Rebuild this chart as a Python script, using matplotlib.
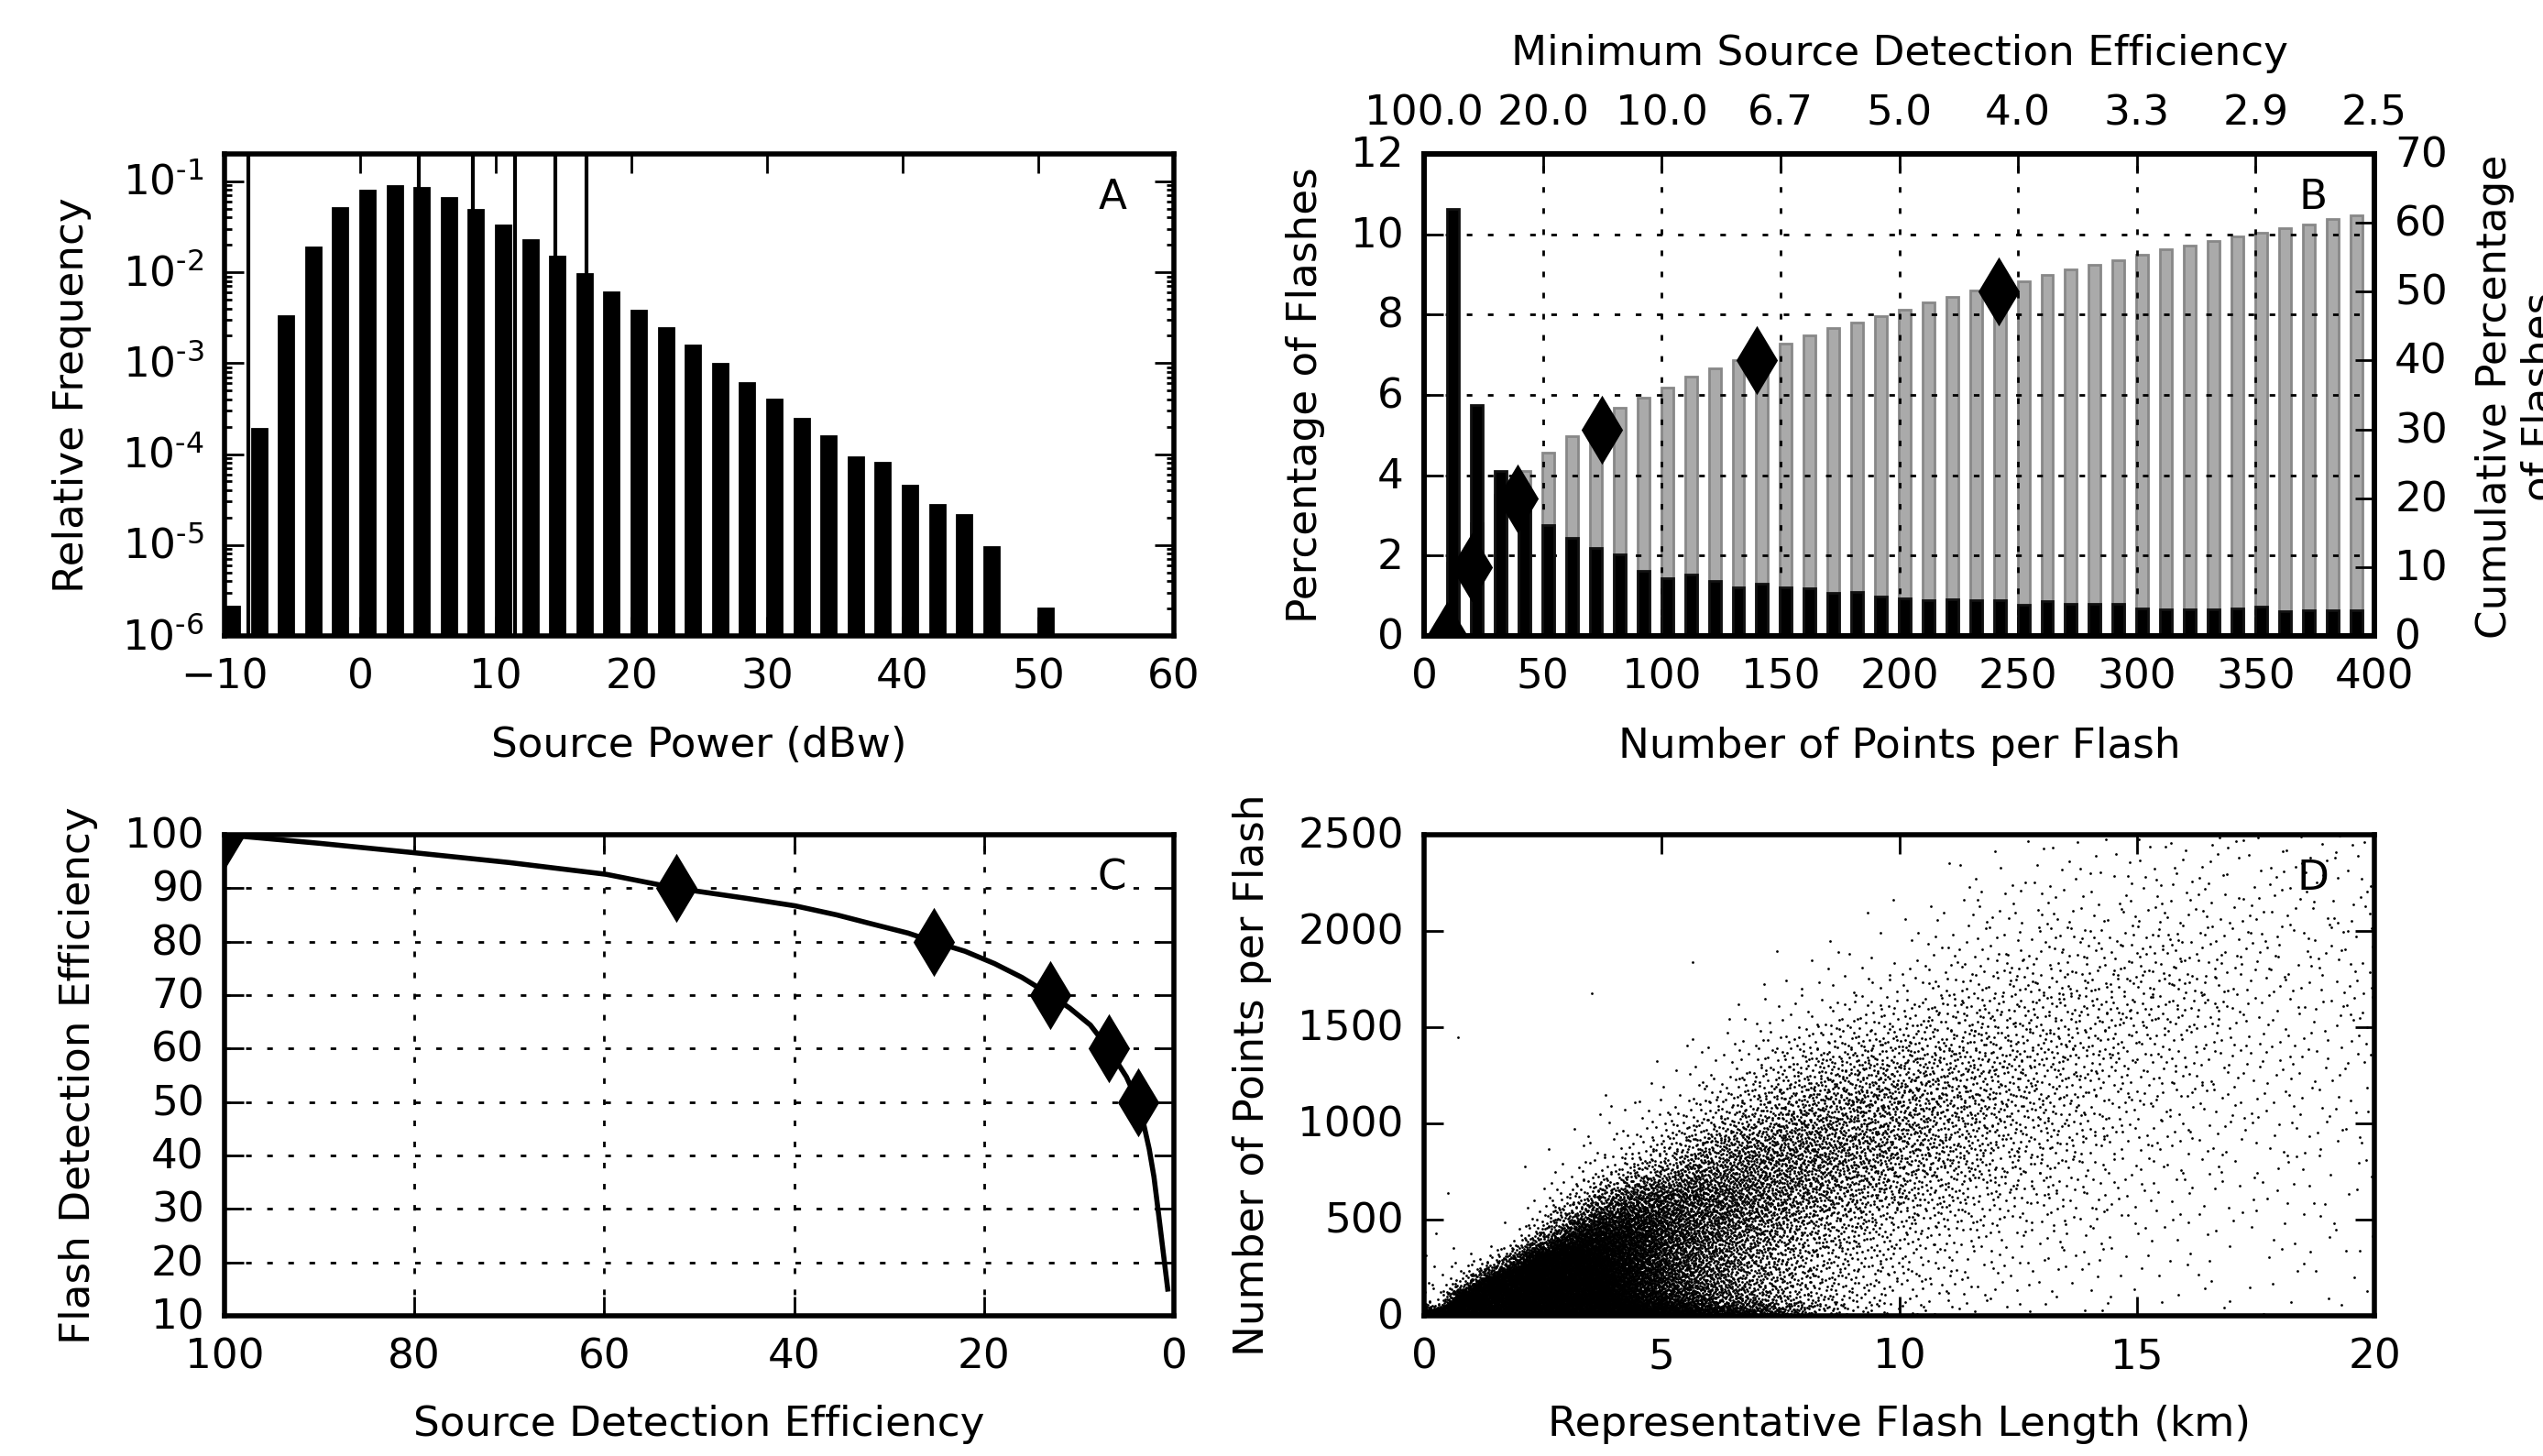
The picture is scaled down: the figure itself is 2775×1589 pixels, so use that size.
import numpy as np
import matplotlib
matplotlib.use("Agg")
import matplotlib.pyplot as plt
from matplotlib.ticker import LogLocator, NullFormatter
from matplotlib.transforms import ScaledTranslation

W, H = 2775, 1589
DPI = 200

# ---- Panel A ----
power_bins = [-10, -8, -6, -4, -2, 0, 2, 4, 6, 8, 10, 12, 14, 16, 18, 20, 22, 24, 26, 28,
              30, 32, 34, 36, 38, 40, 42, 44, 46, 48, 50, 52, 54, 56, 58]
power_freq = [2.1e-6, 1.9e-4, 3.26e-3, 1.88e-2, 5.05e-2, 7.9e-2, 8.9e-2, 8.38e-2, 6.5e-2, 4.89e-2,
              3.31e-2, 2.26e-2, 1.5e-2, 9.6e-3, 5.98e-3, 3.82e-3, 2.44e-3, 1.56e-3, 9.84e-4, 6.03e-4,
              3.95e-4, 2.47e-4, 1.58e-4, 9.2e-5, 8.1e-5, 4.45e-5, 2.75e-5, 2.14e-5, 9.6e-6, 0,
              2.0e-6, 0, 0, 0, 0]
power_marks = [-8.25, 4.3, 8.3, 11.4, 14.4, 16.7]
freq_ticks = [1e-6, 1e-5, 1e-4, 1e-3, 1e-2, 1e-1]
freq_labels = [r'$\mathdefault{10^{\text{-}%d}}$' % k for k in (6, 5, 4, 3, 2, 1)]

# ---- Panel B ----
point_bins = [10, 20, 30, 40, 50, 60, 70, 80, 90, 100, 110, 120, 130, 140, 150, 160, 170, 180, 190,
              200, 210, 220, 230, 240, 250, 260, 270, 280, 290, 300, 310, 320, 330, 340, 350, 360,
              370, 380, 390]
flash_pct = [10.63, 5.75, 4.1, 3.4, 2.75, 2.44, 2.19, 2.03, 1.63, 1.44, 1.53, 1.38, 1.22, 1.30,
             1.22, 1.19, 1.07, 1.10, 0.97, 0.94, 0.90, 0.92, 0.90, 0.90, 0.765, 0.857, 0.796, 0.796,
             0.796, 0.69, 0.67, 0.67, 0.67, 0.69, 0.72, 0.61, 0.64, 0.64, 0.63]
cum_pct = [10.6, 16.4, 20.5, 23.9, 26.6, 29.0, 31.2, 33.1, 34.6, 36.1, 37.6, 38.9, 40.1, 41.2,
           42.4, 43.6, 44.7, 45.5, 46.5, 47.4, 48.4, 49.2, 50.2, 50.8, 51.5, 52.4, 53.2, 53.9,
           54.6, 55.4, 56.2, 56.7, 57.3, 58.0, 58.6, 59.2, 59.7, 60.5, 61.1]
diamond_b_x = [9.7, 20, 39.5, 75, 140, 242]
diamond_b_y = [0, 10, 20, 30, 40, 50]
top_tick_pos = [0, 50, 100, 150, 200, 250, 300, 350, 400]
top_tick_labels = ['100.0', '20.0', '10.0', '6.7', '5.0', '4.0', '3.3', '2.9', '2.5']

# ---- Panel C ----
source_de = [100, 90, 79.8, 70, 59.8, 52.4, 45, 39.9, 35.5, 32, 28, 25.3, 22, 18.9, 16, 13, 11, 8.8,
             6.9, 5, 3.8, 3.2, 2.6, 2.1, 1.64, 1.2, 0.65]
flash_de = [100, 98.4, 96.6, 94.8, 92.6, 90, 88.1, 86.7, 85, 83.4, 81.6, 80, 78.2, 75.9, 73.3, 70, 67.6, 64.4,
            60, 54.7, 50, 46, 41.2, 36, 29.4, 23, 15]
diamond_c_x = [100, 52.4, 25.3, 13, 6.9, 3.8]
diamond_c_y = [100, 90, 80, 70, 60, 50]

# ---- Panel D ----
# The individual dots cannot be read, so this is the density read off the picture:
# dots per (km x 100 points) around each cell. The dots are stippled to follow it with a
# fixed low-discrepancy sequence, not random numbers, so the positions are not the original data.
length_edges = [0, .5, 1, 1.5, 2, 2.5, 3, 3.5, 4, 4.5, 5, 6, 7, 8, 9, 10, 11, 12, 13, 14, 15, 16, 17, 18, 19, 20]
count_edges = [0, 50, 125, 250, 375, 500, 750, 1000, 1250, 1500, 1750, 2000, 2250, 2500]
density_0 = [900, 4000, 4000, 3000, 2500, 2000, 1600, 1300, 1100, 900, 700, 420, 200, 70, 22, 10, 6, 4, 3, 2, 1, 1, 1, 1, 1]
density_1 = [25, 1600, 3000, 2400, 1800, 1400, 1100, 850, 650, 480, 300, 170, 80, 40, 20, 11, 7, 4, 3, 3, 2, 2, 1.5, 1.5, 1]
density_2 = [6, 40, 700, 1600, 1800, 1400, 1000, 750, 550, 380, 220, 120, 65, 36, 20, 12, 8, 5, 4, 3, 2, 2, 1.5, 1.5, 1]
density_3 = [3, 2, 10, 120, 600, 1000, 850, 650, 480, 340, 200, 120, 70, 40, 25, 15, 10, 6, 5, 4, 3, 2, 2, 2, 1.5]
density_4 = [3, 0, .4, 4, 40, 180, 450, 520, 460, 360, 230, 140, 85, 52, 32, 20, 13, 9, 7, 5, 4, 3, 2, 2, 2]
density_5 = [2, .2, .1, .3, 3, 14, 50, 120, 190, 220, 210, 170, 120, 85, 60, 38, 24, 16, 11, 7, 5, 4, 3, 3, 2]
density_6 = [.8, 0, 0, 0, .1, .8, 2.5, 6, 14, 30, 65, 105, 120, 105, 80, 58, 38, 24, 16, 10, 7, 6, 4, 4, 3]
density_7 = [0, 0, 0, 0, 0, .1, .3, .8, 1.5, 3, 10, 30, 55, 72, 72, 60, 44, 32, 22, 14, 10, 7, 5, 5, 4]
density_8 = [0, 0, 0, 0, 0, 0, 0, 0, .1, .5, 1.5, 7, 18, 30, 38, 38, 34, 28, 24, 18, 13, 9, 7, 6, 5]
density_9 = [0, 0, 0, 0, 0, 0, 0, 0, 0, 0, 0, 1, 3, 7, 12, 17, 20, 20, 19, 18, 16, 13, 7, 5, 6]
density_10 = [0, 0, 0, 0, 0, 0, 0, 0, 0, 0, 0, 0, .6, 1.5, 3, 5, 8, 11, 12, 12, 12, 11, 8, 6, 6]
density_11 = [0, 0, 0, 0, 0, 0, 0, 0, 0, 0, 0, 0, 0, .2, .6, 1, 3.5, 5, 6, 6, 6, 7, 6, 5, 5]
density_12 = [0, 0, 0, 0, 0, 0, 0, 0, 0, 0, 0, 0, 0, 0, 0, .3, 1, 2, 3, 3, 4, 4, 4, 4, 4]
density_rows = [density_0, density_1, density_2, density_3, density_4, density_5, density_6,
                density_7, density_8, density_9, density_10, density_11, density_12]

plt.rcParams.update({
    'font.family': 'DejaVu Sans', 'font.size': 16.3, 'axes.linewidth': 2,
    'xtick.direction': 'in', 'ytick.direction': 'in',
    'xtick.major.size': 7.5, 'ytick.major.size': 7.5,
    'xtick.minor.size': 3, 'ytick.minor.size': 3,
    'xtick.major.width': 1, 'ytick.major.width': 1,
    'xtick.minor.width': 1, 'ytick.minor.width': 1,
    'xtick.major.pad': 8.5, 'ytick.major.pad': 8,
    'xtick.top': True, 'ytick.right': True,
})
DOTTED = (0, (2.2, 6.1))

fig = plt.figure(figsize=(W / DPI, H / DPI), dpi=DPI)
label_up = ScaledTranslation(0, 2.5 / DPI, fig.dpi_scale_trans)


def raise_ytick_labels(ax):
    for t in ax.get_yticklabels():
        t.set_transform(t.get_transform() + label_up)


def add_panel(x0, x1, y0, y1):
    return fig.add_axes([x0 / W, 1 - y1 / H, (x1 - x0) / W, (y1 - y0) / H])


def ylabel_at(ax, text, px):
    ax.set_ylabel(text, va='center', ha='center')
    p = ax.get_position()
    ax.yaxis.set_label_coords(px / W, 0.5 * (p.y0 + p.y1), transform=fig.transFigure)


def xlabel_at(ax, text, py):
    ax.set_xlabel(text, va='center', ha='center')
    p = ax.get_position()
    ax.xaxis.set_label_coords(0.5 * (p.x0 + p.x1), 1 - py / H, transform=fig.transFigure)


def letter(ax, s):
    ax.text(0.935, 0.91, s, transform=ax.transAxes, ha='center', va='center', zorder=20)


def radical_inverse(n, base):
    out = np.zeros(len(n))
    f = 1.0 / base
    n = n.copy()
    while n.max() > 0:
        out += f * (n % base)
        n //= base
        f /= base
    return out


# A
ax_a = add_panel(245, 1281, 168, 694)
ax_a.bar(power_bins, power_freq, width=1.08, align='edge', color='black', edgecolor='black', linewidth=1)
for v in power_marks:
    ax_a.axvline(v, color='black', lw=1.5)
ax_a.set_yscale('log')
ax_a.set_xlim(-10, 60)
ax_a.set_ylim(1e-6, 0.2)
ax_a.set_xticks(np.arange(-10, 61, 10))
ax_a.set_yticks(freq_ticks)
ax_a.set_yticklabels(freq_labels)
ax_a.yaxis.set_minor_locator(LogLocator(base=10, subs=np.arange(2, 10), numticks=10))
ax_a.yaxis.set_minor_formatter(NullFormatter())
letter(ax_a, 'A')
ylabel_at(ax_a, 'Relative Frequency', 79)
xlabel_at(ax_a, 'Source Power (dBw)', 814)

# B
ax_b = add_panel(1554, 2591, 168, 694)
ax_r = ax_b.twinx()
ax_t = ax_b.twiny()
ax_r.set_zorder(1)
ax_b.set_zorder(2)
ax_t.set_zorder(3)
ax_b.patch.set_visible(False)
ax_t.patch.set_visible(False)
lefts = np.array(point_bins) - 0.2
ax_r.bar(lefts, cum_pct, width=5.0, align='edge', color='#aaaaaa', edgecolor='#888888', linewidth=1)
ax_b.bar(lefts, flash_pct, width=5.0, align='edge', color='black', edgecolor='#111111', linewidth=1)
ax_b.set_axisbelow(True)
ax_b.grid(True, color='black', linestyle=DOTTED, linewidth=1)
ax_b.plot(diamond_b_x, diamond_b_y, linestyle='none', marker='d', ms=18, color='black', mec='black',
          transform=ax_r.transData, zorder=10)
ax_b.set_xlim(0, 400)
ax_b.set_ylim(0, 12)
ax_b.set_yticks(np.arange(0, 13, 2))
ax_r.set_ylim(0, 70)
ax_r.set_yticks(np.arange(0, 71, 10))
ax_b.set_xticks(top_tick_pos)
ax_b.tick_params(top=False, right=False)
ax_r.tick_params(left=False, right=True)
ax_t.set_xlim(0, 400)
ax_t.set_xticks(top_tick_pos)
ax_t.set_xticklabels(top_tick_labels)
ax_t.tick_params(bottom=False, top=True, pad=8)
ax_b.text(0.935, 0.91, 'B', transform=ax_b.transAxes, ha='center', va='center', zorder=20)
ylabel_at(ax_b, 'Percentage of Flashes', 1424)
xlabel_at(ax_b, 'Number of Points per Flash', 814)
ax_t.set_xlabel('Minimum Source Detection Efficiency', va='center', ha='center')
ax_t.xaxis.set_label_coords(2073 / W, 1 - 58 / H, transform=fig.transFigure)
ax_r.set_ylabel('Cumulative Percentage\nof Flashes', va='center', ha='center', rotation=90, multialignment='center')
ax_r.yaxis.set_label_coords(2747 / W, 1 - 433 / H, transform=fig.transFigure)

# C
ax_c = add_panel(245, 1281, 911, 1436)
ax_c.grid(True, color='black', linestyle=DOTTED, linewidth=1)
ax_c.set_axisbelow(True)
ax_c.plot(source_de, flash_de, color='black', lw=2)
ax_c.plot(diamond_c_x, diamond_c_y, linestyle='none', marker='d', ms=18, color='black', mec='black')
ax_c.set_xlim(100, 0)
ax_c.set_ylim(10, 100)
ax_c.set_xticks(np.arange(0, 101, 20))
ax_c.set_yticks(np.arange(10, 101, 10))
letter(ax_c, 'C')
ylabel_at(ax_c, 'Flash Detection Efficiency', 86)
xlabel_at(ax_c, 'Source Detection Efficiency', 1555)

# D
ax_d = add_panel(1554, 2591, 911, 1436)
len_mid = 0.5 * (np.array(length_edges[:-1]) + np.array(length_edges[1:]))
cnt_mid = 0.5 * (np.array(count_edges[:-1]) + np.array(count_edges[1:]))
log_density = np.log(np.maximum(np.array(density_rows, dtype=float), 0.03))
DENS_CAP = 800.0
n_seq = int(DENS_CAP * 20 * 25)
idx = np.arange(1, n_seq + 1)
px = radical_inverse(idx, 2) * 20
py = radical_inverse(idx, 3) * 2500
keep_level = radical_inverse(idx, 5)
ic = np.clip(np.searchsorted(len_mid, px) - 1, 0, len(len_mid) - 2)
ir = np.clip(np.searchsorted(cnt_mid, py) - 1, 0, len(cnt_mid) - 2)
tc = np.clip((px - len_mid[ic]) / (len_mid[ic + 1] - len_mid[ic]), 0, 1)
tr = np.clip((py - cnt_mid[ir]) / (cnt_mid[ir + 1] - cnt_mid[ir]), 0, 1)
local = np.exp((1 - tr) * ((1 - tc) * log_density[ir, ic] + tc * log_density[ir, ic + 1])
               + tr * ((1 - tc) * log_density[ir + 1, ic] + tc * log_density[ir + 1, ic + 1]))
mask = keep_level < local / DENS_CAP
ax_d.plot(px[mask], py[mask], linestyle='none', marker='o', ms=1.0, mew=0, color='black')
ax_d.set_xlim(0, 20)
ax_d.set_ylim(0, 2500)
ax_d.set_xticks(np.arange(0, 21, 5))
ax_d.set_yticks(np.arange(0, 2501, 500))
letter(ax_d, 'D')
ylabel_at(ax_d, 'Number of Points per Flash', 1366)
xlabel_at(ax_d, 'Representative Flash Length (km)', 1555)

for a in (ax_a, ax_b, ax_r, ax_c, ax_d):
    raise_ytick_labels(a)

fig.savefig('out.png', dpi=DPI)
